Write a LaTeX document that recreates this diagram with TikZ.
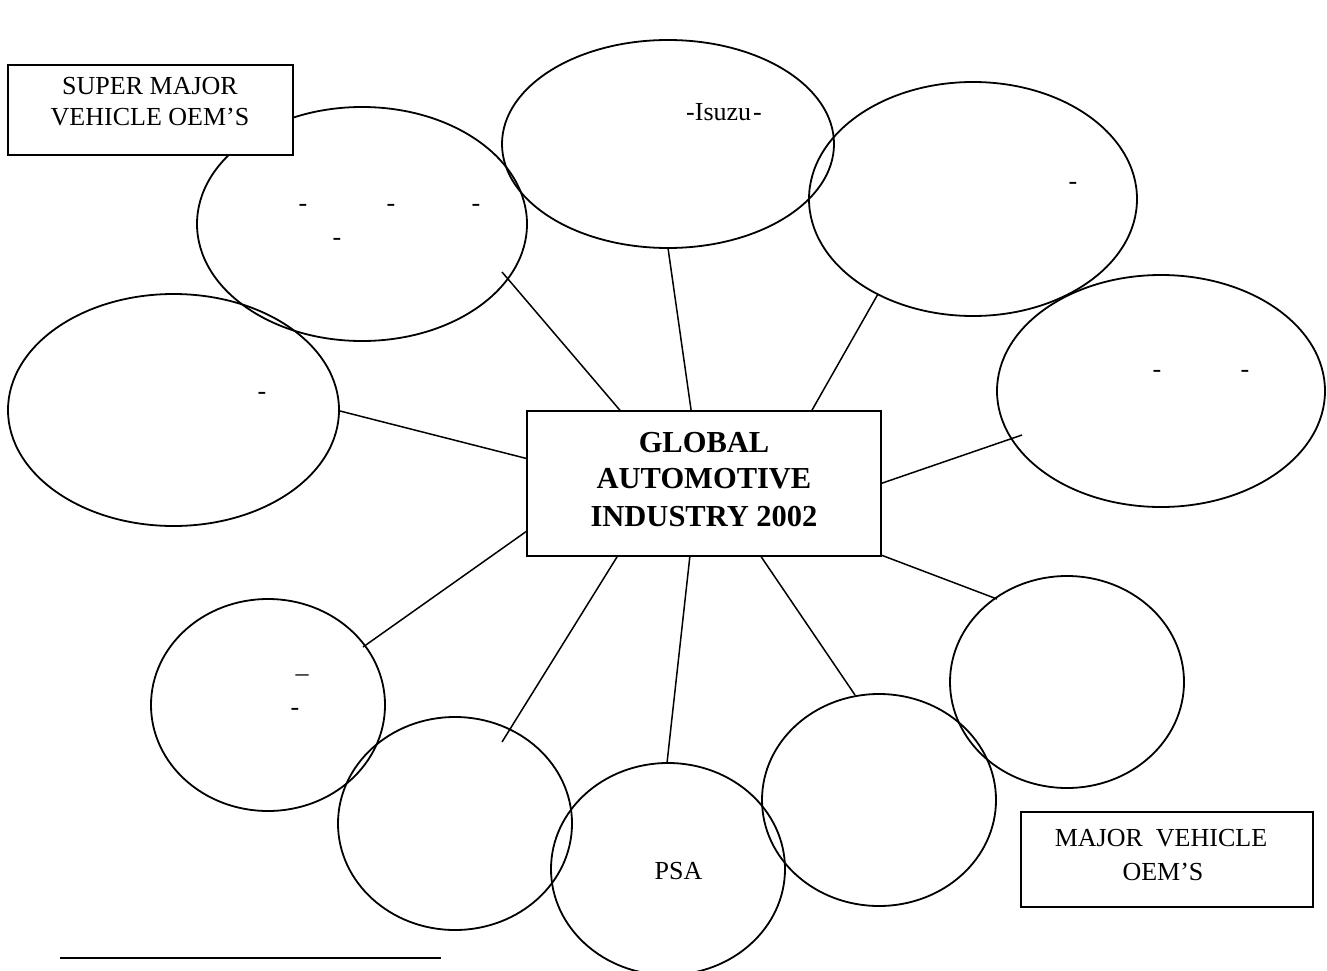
\documentclass[tikz,border=0pt]{standalone}
\usepackage{fontspec}
\setmainfont{Liberation Serif}
\usetikzlibrary{shapes.geometric}
\begin{document}
\begin{tikzpicture}[x=1pt,y=-1pt,
  oval/.style={draw, ellipse, line width=1.8pt, inner sep=0pt, outer sep=0pt},
  bigoval/.style={oval, minimum width=330pt, minimum height=234pt},
  smalloval/.style={oval, minimum width=234pt, minimum height=212pt},
  frame/.style={draw, fill=white, rectangle, line width=1.8pt, inner sep=0pt, outer sep=0pt},
  txt/.style={anchor=base, inner sep=0pt, font=\fontsize{26}{31}\selectfont},
  btxt/.style={anchor=base, inner sep=0pt, font=\fontsize{30.5}{37}\selectfont\bfseries},
  conn/.style={line width=1.5pt}]
\useasboundingbox (0,0) rectangle (1327,971);

% ellipses
\node[bigoval] (toyota) at (362,224) {};
\node[bigoval, minimum width=331pt, minimum height=232pt] (left) at (173.5,410) {};
\node[bigoval, minimum width=332pt, minimum height=208pt] (isuzu) at (668,144) {};
\node[bigoval, minimum width=328pt] (topright) at (973,199) {};
\node[bigoval, minimum width=328pt, minimum height=232pt] (right) at (1161,391) {};
\node[smalloval] (sl) at (268,705) {};
\node[smalloval, minimum height=213pt] (sb) at (455,823.5) {};
\node[smalloval] (psa) at (668,869) {};
\node[smalloval] (sbr) at (879,800) {};
\node[smalloval] (sr) at (1067,682) {};

% texts inside ellipses
\node[txt] (d1) at (303,211) {-};
\node[txt] (d2) at (391,211) {-};
\node[txt] (d3) at (476,211) {-};
\node[txt] (d4) at (337,245) {-};
\node[txt] (d5) at (262,399) {-};
\node[txt] (isuzut) at (724,120.5) {-Isuzu\kern2pt-};
\node[txt] (d6) at (1073,189) {-};
\node[txt] (d7) at (1157,377) {-};
\node[txt] (d8) at (1245,377) {-};
\node[txt] (d9) at (302,681) {–};
\node[txt] (d10) at (295,715) {-};
\node[txt] (psat) at (678.5,879.5) {PSA};

% central box
\node[frame, minimum width=354pt, minimum height=145pt] (core) at (704,483.5) {};
\node[btxt] (g1) at (704,452.5) {GLOBAL};
\node[btxt] (g2) at (704,488.5) {AUTOMOTIVE};
\node[btxt] (g3) at (704,526) {INDUSTRY 2002};

% label boxes
\node[frame, minimum width=285pt, minimum height=90pt] (superbox) at (150.5,110) {};
\node[txt] (s1) at (150,94.5) {SUPER MAJOR};
\node[txt] (s2) at (150,126) {VEHICLE OEM’S};
\node[frame, minimum width=292pt, minimum height=95pt] (majorbox) at (1167,859.5) {};
\node[txt] (m1) at (1161,846) {MAJOR\ \ VEHICLE};
\node[txt] (m2) at (1163,880) {OEM’S};

% connector free ends
\coordinate (c1) at (502,272);
\coordinate (c2) at (668,248);
\coordinate (c3) at (878,294);
\coordinate (c4) at (340,411);
\coordinate (c5) at (1022,435);
\coordinate (c6) at (363,647);
\coordinate (c7) at (502,742);
\coordinate (c8) at (667,763);
\coordinate (c9) at (855,695);
\coordinate (c10) at (997,599);

\draw[conn] (core.139.2) -- (c1);
\draw[conn] (core.100.9) -- (c2);
\draw[conn] (core.34.4) -- (c3);
\draw[conn] (core.172.4) -- (c4);
\draw[conn] (core.0.8) -- (c5);
\draw[conn] (core.195.3) -- (c6);
\draw[conn] (core.220.8) -- (c7);
\draw[conn] (core.259.8) -- (c8);
\draw[conn] (core.308.7) -- (c9);
\draw[conn] (core.338.3) -- (c10);

% footnote rule
\coordinate (rulel) at (60,958);
\coordinate (ruler) at (441,958);
\draw[line width=1.8pt] (rulel) -- (ruler);
\end{tikzpicture}
\end{document}
